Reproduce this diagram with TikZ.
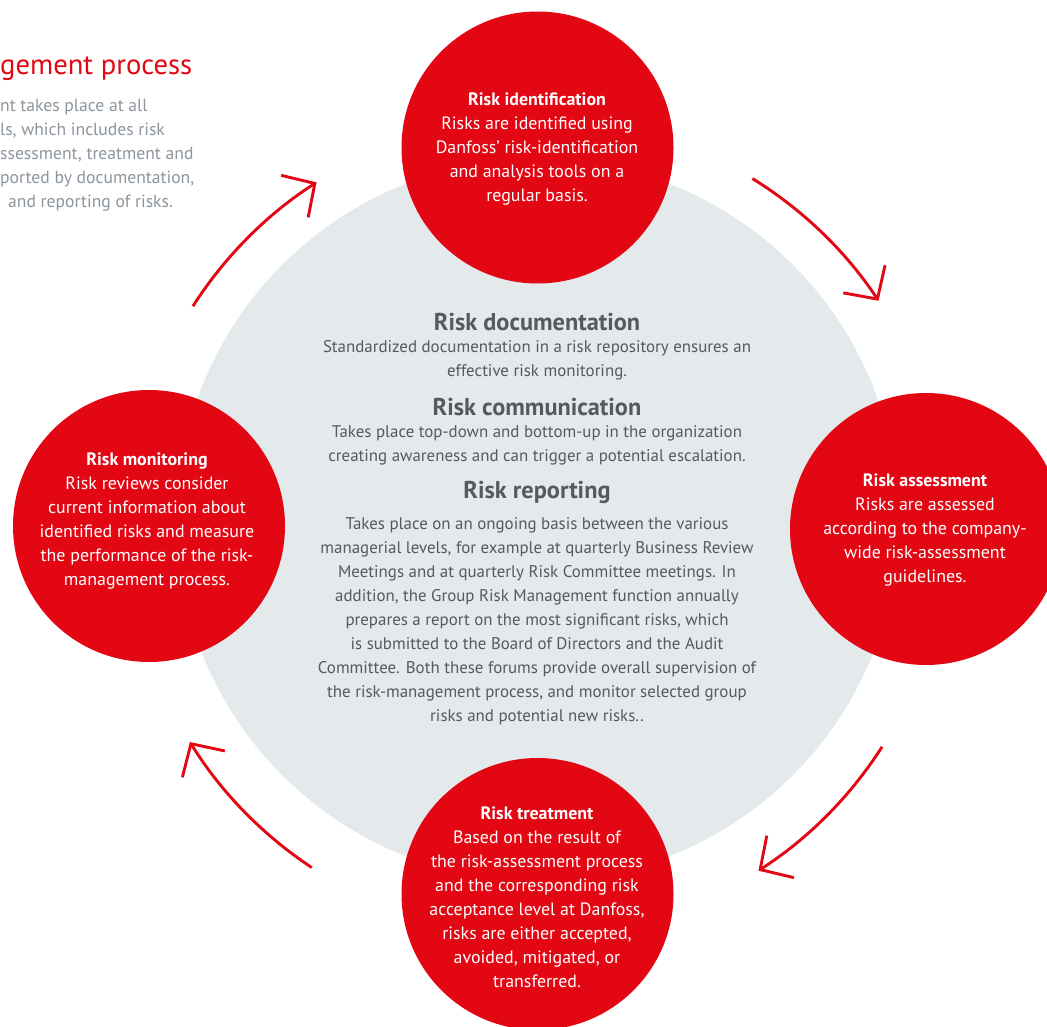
\documentclass[tikz,border=0pt]{standalone}
\usepackage{fontspec}
\setmainfont{PT Sans}
\usetikzlibrary{arrows.meta,calc}
\definecolor{dfred}{HTML}{E30613}
\definecolor{bggrey}{HTML}{E4E9EC}
\definecolor{bodytxt}{HTML}{58595B}
\definecolor{lighttxt}{HTML}{8C959D}
\tikzset{
  redcirc/.style={circle,fill=dfred,minimum size=272pt,inner sep=0pt},
  circtxt/.style={text=white,align=center,font=\fontsize{17.9}{24}\selectfont},
  heading/.style={text=bodytxt,font=\fontsize{24.3}{28}\selectfont\bfseries},
  bodytext/.style={text=bodytxt,align=center,font=\fontsize{16.9}{24}\selectfont},
  introtxt/.style={text=lighttxt,anchor=base west,inner sep=0pt,font=\fontsize{17.6}{24}\selectfont},
  cyclearrow/.style={draw=dfred,line width=2.9pt,-{Straight Barb[length=24pt,width=50pt,line width=2.9pt]}}
}
\begin{document}
\begin{tikzpicture}[x=1pt,y=1pt]
\useasboundingbox (0,0) rectangle (1047,-1027);
% big grey circle
\fill[bggrey] (537.5,-520) circle[radius=361];
% cycle arrows
\coordinate (C) at (537.5,-526.5);
\draw[cyclearrow] ($(C)+(147.4:409)$) arc[start angle=147.4,end angle=122.7,radius=409];
\draw[cyclearrow] ($(C)+(58.3:409)$) arc[start angle=58.3,end angle=33.5,radius=409];
\draw[cyclearrow] ($(C)+(-32.6:409)$) arc[start angle=-32.6,end angle=-57.3,radius=409];
\draw[cyclearrow] ($(C)+(-123.5:409)$) arc[start angle=-123.5,end angle=-148.2,radius=409];
% red circles
\node[redcirc] (ident) at (537.5,-147.5) {};
\node[redcirc] (assess) at (926,-529) {};
\node[redcirc] (monit) at (149,-526) {};
\node[redcirc] (treat) at (537.5,-894) {};
\node[circtxt] (identtxt) at (537,-149) {\textbf{Risk identification}\\Risks are identified using\\Danfoss’ risk-identification\\and analysis tools on a\\regular basis.};
\node[circtxt] (assesstxt) at (925,-530) {\textbf{Risk assessment}\\Risks are assessed\\according to the company-\\wide risk-assessment\\guidelines.};
\node[circtxt] (monittxt) at (147,-521) {\textbf{Risk monitoring}\\Risk reviews consider\\current information about\\identified risks and measure\\the performance of the risk-\\management process.};
\node[circtxt] (treattxt) at (537,-897) {\textbf{Risk treatment}\\Based on the result of\\the risk-assessment process\\and the corresponding risk\\acceptance level at Danfoss,\\risks are either accepted,\\avoided, mitigated, or\\transferred.};
% centre texts
\node[heading] (doch) at (537,-322) {Risk documentation};
\node[bodytext] (docb) at (537,-360) {Standardized documentation in a risk repository ensures an\\effective risk monitoring.};
\node[heading] (comh) at (537,-407) {Risk communication};
\node[bodytext] (comb) at (537,-445) {Takes place top-down and bottom-up in the organization\\creating awareness and can trigger a potential escalation.};
\node[heading] (reph) at (537,-492) {Risk reporting};
\node[bodytext] (repb) at (537,-621) {Takes place on an ongoing basis between the various\\managerial levels, for example at quarterly Business Review\\Meetings and at quarterly Risk Committee meetings. In\\addition, the Group Risk Management function annually\\prepares a report on the most significant risks, which\\is submitted to the Board of Directors and the Audit\\Committee. Both these forums provide overall supervision of\\the risk-management process, and monitor selected group\\risks and potential new risks..};
% intro text (cut at left edge)
\node[anchor=base west,inner sep=0pt,text=dfred,font=\fontsize{28.6}{32}\selectfont] (title) at (0,-75) {gement process};
\node[introtxt] (i1) at (0,-112) {nt takes place at all};
\node[introtxt] (i2) at (0,-136) {ls, which includes risk};
\node[introtxt] (i3) at (0,-160) {ssessment, treatment and};
\node[introtxt] (i4) at (0,-184) {ported by documentation,};
\node[introtxt] (i5) at (8,-208) {and reporting of risks.};
\end{tikzpicture}
\end{document}
